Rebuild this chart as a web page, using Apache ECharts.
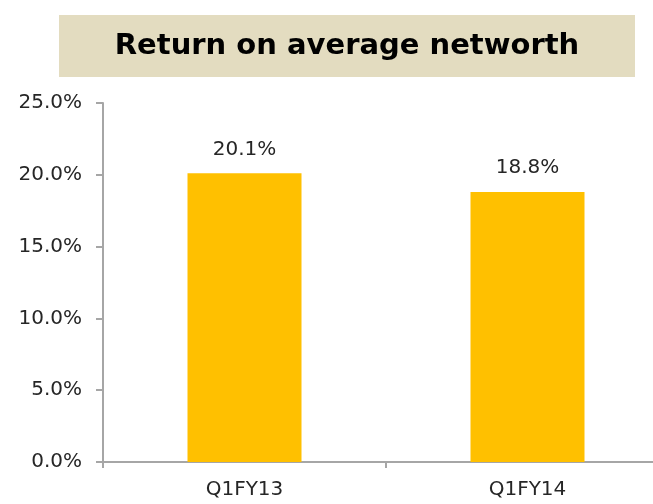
<!DOCTYPE html>
<html>
<head>
<meta charset="utf-8">
<script src="https://cdn.jsdelivr.net/npm/echarts@6/dist/echarts.min.js"></script>
<style>
  html, body { margin: 0; padding: 0; background: #fff; }
  #chart { width: 653px; height: 504px; }
</style>
</head>
<body>
<div id="chart"></div>
<script>
// chart data
var chartTitle = 'Return on average networth';
var quarters = ['Q1FY13', 'Q1FY14'];
var ronw = [20.1, 18.8];
var yTicks = [0, 5, 10, 15, 20, 25];

var myChart = echarts.init(document.getElementById('chart'));

var option = {
  animation: false,
  graphic: [
    {
      type: 'rect',
      shape: { x: 59, y: 15, width: 576, height: 62 },
      style: { fill: '#E3DCC0' },
      z: 0
    },
    {
      type: 'text',
      x: 347,
      y: 46,
      style: {
        text: chartTitle,
        fill: '#000',
        font: 'bold 29px "DejaVu Sans"',
        align: 'center',
        verticalAlign: 'middle'
      },
      z: 1
    }
  ],
  grid: { left: 103, top: 103, width: 566, bottom: 42, outerBoundsMode: 'none', containLabel: false },
  xAxis: {
    type: 'category',
    data: quarters,
    axisLine: { lineStyle: { color: '#a6a6a6', width: 2 } },
    axisTick: { show: true, length: 6, lineStyle: { color: '#a6a6a6', width: 2 } },
    axisLabel: { color: '#262626', fontSize: 20, fontFamily: 'DejaVu Sans', margin: 18 }
  },
  yAxis: {
    type: 'value',
    min: yTicks[0],
    max: yTicks[yTicks.length - 1],
    interval: 5,
    axisLine: { show: true, lineStyle: { color: '#a6a6a6', width: 2 } },
    axisTick: { show: true, length: 7, lineStyle: { color: '#a6a6a6', width: 2 } },
    splitLine: { show: false },
    axisLabel: {
      color: '#262626', fontSize: 20, fontFamily: 'DejaVu Sans', margin: 21,
      formatter: function (v) { return v.toFixed(1) + '%'; }
    }
  },
  series: [
    {
      type: 'bar',
      data: ronw,
      barWidth: 114,
      itemStyle: { color: '#FFC000' },
      label: {
        show: true,
        position: 'top',
        distance: 14,
        color: '#262626',
        fontSize: 20,
        fontFamily: 'DejaVu Sans',
        formatter: function (p) { return p.value.toFixed(1) + '%'; }
      }
    }
  ]
};
myChart.setOption(option);
</script>
</body>
</html>
